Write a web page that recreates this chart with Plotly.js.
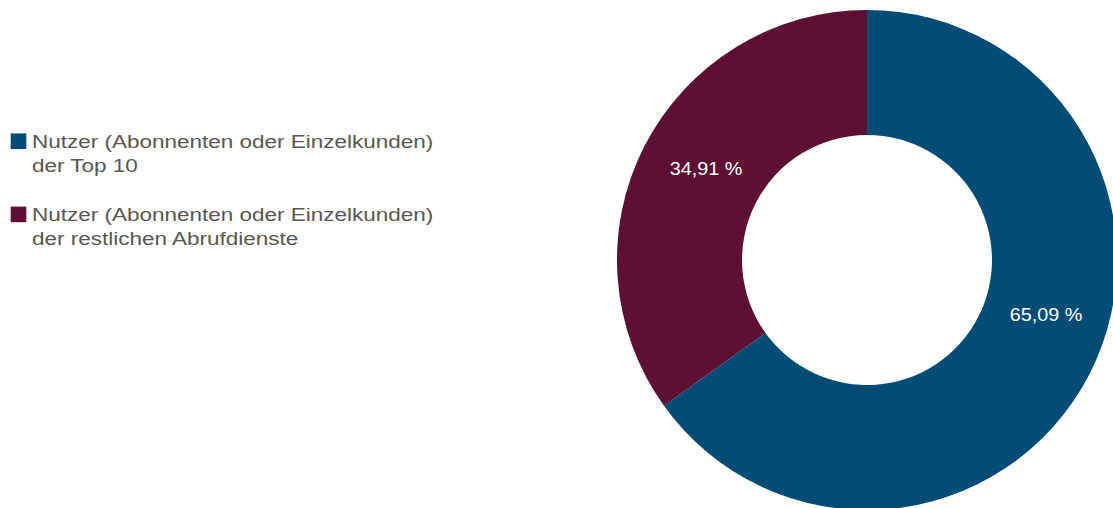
<!DOCTYPE html>
<html>
<head>
<meta charset="utf-8">
<script src="https://cdn.plot.ly/plotly-3.0.1.min.js"></script>
<style>
html,body{margin:0;padding:0;overflow:hidden;background:#fff;}
#chart{width:1120px;height:520px;}
#chart .legend .scrollbox{clip-path:none !important;}
#chart .legendtext{transform-box:fill-box;transform-origin:left center;transform:translate(-8px,0px) scaleX(1.25);}
#chart .legendpie{transform:translate(18.5px,0px) scale(1.3);}
#chart .annotation-text{transform-box:fill-box;transform-origin:center;transform:scaleX(1.1);}
</style>
</head>
<body>
<div id="chart"></div>
<script>
const labels = [
  "Nutzer (Abonnenten oder Einzelkunden)<br>der Top 10<br> ",
  "Nutzer (Abonnenten oder Einzelkunden)<br>der restlichen Abrufdienste<br> "
];
const values = [65.09, 34.91];
const colors = ["#024C75", "#5E1034"];

const W = 1120, H = 520;
const cx = 867, cy = 260, r = 250;

function fmt(v) { return v.toFixed(2).replace('.', ',') + ' %'; }

// label anchor points (pixels) for the value labels
const labelPx = [[1046, 315], [706, 169]];

Plotly.newPlot('chart', [{
  type: 'pie',
  labels: labels,
  values: values,
  sort: false,
  direction: 'clockwise',
  rotation: 0,
  hole: 0.5,
  marker: {colors: colors, line: {width: 0}},
  textinfo: 'none',
  domain: {x: [(cx - r) / W, Math.min(1, (cx + r) / W)], y: [(H - (cy + r)) / H, (H - (cy - r)) / H]},
  hoverinfo: 'skip'
}], {
  width: W, height: H,
  margin: {l: 0, r: 0, t: 0, b: 0},
  paper_bgcolor: '#ffffff',
  showlegend: true,
  legend: {
    x: 0, xanchor: 'left',
    y: (H - 123) / H, yanchor: 'top',
    valign: 'top',
    font: {family: 'Liberation Sans, Arial, sans-serif', size: 18, color: '#5A5650'},
    bgcolor: 'rgba(0,0,0,0)'
  },
  annotations: values.map((v, i) => ({
    xref: 'paper', yref: 'paper',
    x: labelPx[i][0] / W, y: 1 - labelPx[i][1] / H,
    xanchor: 'center', yanchor: 'middle',
    showarrow: false,
    text: fmt(v),
    font: {family: 'Liberation Sans, Arial, sans-serif', size: 18, color: '#ffffff'}
  }))
}, {staticPlot: true});
</script>
</body>
</html>
